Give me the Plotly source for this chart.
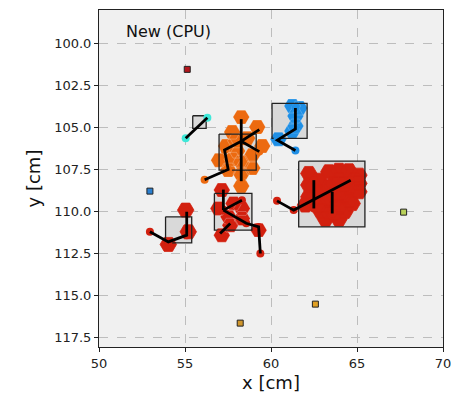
import numpy as np
import plotly.graph_objects as go

# ---- data -------------------------------------------------------------
HEX_R = 0.48  # cell radius [cm]

orange_cells = [(58.27, 104.39), (59.20, 104.98), (57.74, 105.28), (58.62, 105.64),
                (59.49, 106.11), (57.39, 106.11), (58.03, 106.41), (58.91, 106.65),
                (56.98, 106.95), (58.27, 107.07), (57.51, 107.54), (58.91, 107.42),
                (58.27, 108.49), (57.95, 105.80), (58.27, 107.78), (57.75, 106.90)]
blue_cells = [(61.24, 103.73), (61.65, 103.85), (61.42, 104.33), (61.42, 104.92),
              (61.24, 105.22), (60.43, 105.70)]
red_big_cells = [(62.20, 107.74), (63.36, 107.64), (64.53, 107.58), (65.11, 107.84),
                 (62.78, 108.14), (63.95, 108.14), (65.11, 108.33), (62.20, 108.43),
                 (63.36, 108.53), (64.53, 108.63), (62.78, 108.83), (63.95, 108.93),
                 (65.11, 108.83), (62.20, 109.13), (63.36, 109.33), (64.53, 109.33),
                 (62.00, 109.62), (62.78, 109.62), (63.95, 109.72), (64.72, 109.53),
                 (63.36, 110.02), (63.17, 110.46), (63.95, 110.46),
                 (63.95, 107.55), (63.65, 108.35), (64.24, 108.35), (62.49, 108.50),
                 (63.65, 109.00), (64.24, 109.00), (62.49, 109.20), (63.65, 110.10),
                 (64.30, 110.00), (62.90, 110.00), (64.85, 108.10)]
red_mid_cells = [(57.14, 108.73), (56.94, 109.82), (57.82, 109.52), (58.31, 109.82),
                 (57.53, 110.32), (58.31, 110.42), (57.14, 111.41), (59.28, 111.11),
                 (57.63, 110.82)]
red_left_cells = [(54.03, 111.96), (55.04, 109.92), (55.19, 111.21)]

# bounding boxes: (x0, x1, y0, y1)
boxes = [(56.98, 59.14, 105.40, 107.54),
         (60.06, 62.10, 103.57, 105.65),
         (55.45, 56.23, 104.31, 105.06),
         (61.61, 65.46, 107.01, 110.92),
         (53.87, 55.39, 110.32, 111.87),
         (56.71, 58.89, 108.93, 111.11)]

# track polylines: (x list, y list, colour)
tracks = [
    ([56.14, 57.51, 57.30, 58.27, 59.32], [108.11, 107.50, 106.35, 105.82, 105.13], "#ec6a10"),
    ([58.27, 59.32], [105.82, 106.44], "#ec6a10"),
    ([58.27, 58.27], [104.51, 108.20], "#ec6a10"),
    ([61.42, 61.42, 60.37, 61.42], [103.85, 105.10, 105.76, 106.38], "#1f8fe5"),
    ([55.04, 56.30], [105.65, 104.43], "#3ee8d8"),
    ([60.35, 61.32, 64.63], [109.37, 109.92, 108.14], "#d2200f"),
    ([62.49, 62.49], [108.14, 109.82], "#d2200f"),
    ([63.56, 63.56], [108.83, 110.12], "#d2200f"),
    ([52.96, 54.03, 55.10, 55.10], [111.21, 111.81, 111.41, 110.02], "#d2200f"),
    ([57.23, 57.23], [108.70, 109.92], "#d2200f"),
    ([57.23, 58.31], [109.92, 109.33], "#d2200f"),
    ([57.23, 58.56, 59.28, 59.38], [109.92, 110.70, 110.92, 112.50], "#d2200f"),
    ([57.63, 57.04], [110.71, 111.31], "#d2200f"),
]

# single-cell clusters
single_x = [55.13, 52.96, 67.71, 62.58, 58.21]
single_y = [101.55, 108.79, 110.04, 115.51, 116.64]
single_c = ["#b3161c", "#2a7fd0", "#b9d15a", "#e0a024", "#d0962c"]

x_ticks = [50, 55, 60, 65, 70]
y_ticks = [100.0, 102.5, 105.0, 107.5, 110.0, 112.5, 115.0, 117.5]


def hex_path(cells, r):
    xs, ys = [], []
    ang = np.deg2rad(np.arange(0, 361, 60))
    for cx, cy in cells:
        xs += list(cx + r * np.cos(ang)) + [None]
        ys += list(cy + r * np.sin(ang)) + [None]
    return xs, ys


fig = go.Figure()

# box backgrounds
for x0, x1, y0, y1 in boxes:
    fig.add_trace(go.Scatter(x=[x0, x1, x1, x0, x0], y=[y0, y0, y1, y1, y0],
                             mode="lines", fill="toself", fillcolor="#d9d9d9",
                             line=dict(width=0), hoverinfo="skip"))

# hexagonal cells
for cells, col, edge in [(orange_cells, "#ec6a10", "rgba(255,255,255,0.3)"),
                         (blue_cells, "#1f8fe5", "rgba(255,255,255,0.25)"),
                         (red_big_cells, "#d2200f", "#d2200f"),
                         (red_mid_cells, "#d2200f", "rgba(255,255,255,0.3)"),
                         (red_left_cells, "#d2200f", "#d2200f")]:
    hx, hy = hex_path(cells, HEX_R)
    fig.add_trace(go.Scatter(x=hx, y=hy, mode="lines", fill="toself",
                             fillcolor=col, line=dict(color=edge, width=0.8),
                             hoverinfo="skip"))

# box outlines
for x0, x1, y0, y1 in boxes:
    fig.add_trace(go.Scatter(x=[x0, x1, x1, x0, x0], y=[y0, y0, y1, y1, y0],
                             mode="lines", line=dict(color="#222222", width=1.3),
                             hoverinfo="skip"))

# track vertices then track lines
for tx, ty, col in tracks:
    fig.add_trace(go.Scatter(x=tx, y=ty, mode="markers",
                             marker=dict(color=col, size=8), hoverinfo="skip"))
for tx, ty, col in tracks:
    fig.add_trace(go.Scatter(x=tx, y=ty, mode="lines",
                             line=dict(color="black", width=2.8), hoverinfo="skip"))

fig.add_trace(go.Scatter(x=single_x, y=single_y, mode="markers",
                         marker=dict(symbol="square", size=6, color=single_c,
                                     line=dict(color="#222222", width=1)),
                         hoverinfo="skip"))

axis_common = dict(showline=True, mirror=True, linecolor="#222222", linewidth=1,
                   ticks="outside", ticklen=4, tickcolor="#222222",
                   showgrid=True, gridcolor="#bdbdbd", griddash="dash", gridwidth=1,
                   zeroline=False, ticklabeloverflow="allow", automargin=False,
                   tickfont=dict(family="DejaVu Sans", size=13, color="#222222"))

fig.update_layout(
    width=451, height=398,
    margin=dict(l=99, r=8, t=10, b=51),
    paper_bgcolor="white", plot_bgcolor="#f0f0f0",
    showlegend=False,
    xaxis=dict(range=[50, 70], tickvals=x_ticks, ticktext=[str(v) for v in x_ticks],
               title=dict(text="x [cm]", font=dict(family="DejaVu Sans", size=18, color="#111111"),
                          standoff=6),
               **axis_common),
    yaxis=dict(range=[118.06, 98.02], tickvals=y_ticks,
               ticktext=[f"{v:.1f}" for v in y_ticks],
               title=dict(text="y [cm]", font=dict(family="DejaVu Sans", size=18, color="#111111"),
                          standoff=8),
               **axis_common),
    annotations=[dict(text="New (CPU)", xref="paper", yref="paper", x=0.073, y=0.935,
                      xanchor="left", yanchor="middle", showarrow=False,
                      font=dict(family="DejaVu Sans", size=16, color="#111111"))],
)

fig.write_html("out.html")
